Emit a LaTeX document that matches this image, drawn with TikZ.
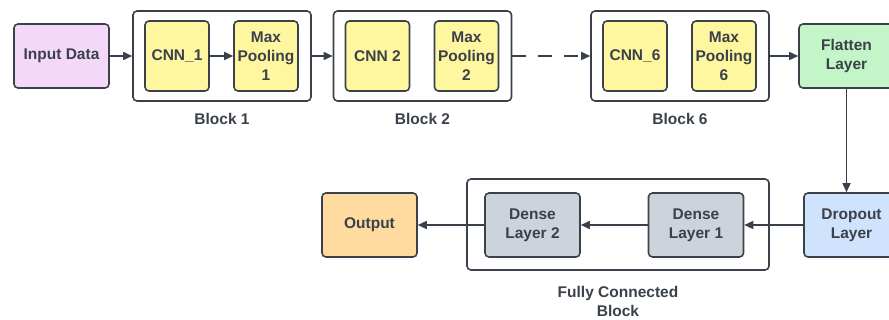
\documentclass[tikz,border=0pt]{standalone}
\usepackage{fontspec}
\setmainfont{Liberation Sans}
\usetikzlibrary{arrows.meta,positioning}

\definecolor{inkgray}{HTML}{3A414A}
\definecolor{inputfill}{HTML}{F3D8FA}
\definecolor{convfill}{HTML}{FFF6A0}
\definecolor{flatfill}{HTML}{C4F5C8}
\definecolor{dropfill}{HTML}{D0E3FC}
\definecolor{densefill}{HTML}{CDD3DB}
\definecolor{outfill}{HTML}{FFDBA0}

\tikzset{
  layer/.style={draw=inkgray, line width=1.6pt, rounded corners=4pt,
    minimum width=95pt, minimum height=64pt, inner sep=2pt, align=center,
    text=inkgray, font=\bfseries\fontsize{15.5}{19}\selectfont},
  convbox/.style={layer, fill=convfill, minimum width=64pt, minimum height=70pt},
  blockbox/.style={draw=inkgray, line width=1.6pt, rounded corners=4pt,
    minimum width=178pt, minimum height=90pt},
  blocklabel/.style={text=inkgray, align=center,
    font=\bfseries\fontsize{15.5}{19}\selectfont},
  flow/.style={->, draw=inkgray, line width=1.6pt}
}

\begin{document}
\begin{tikzpicture}[x=1pt, y=-1pt, >={Triangle[length=9pt,width=8pt]}]

            \useasboundingbox (0,0) rectangle (889,320);

            % Input
            \node[layer, fill=inputfill] (In) at (61.5,56) {Input Data};

            % Convolution blocks
            \foreach \n/\x/\cnn in {1/222/CNN\_1, 2/422.5/CNN 2, 6/680/CNN\_6}
            {
            \node[blockbox] (B\n) at (\x,56) {};
            \node[convbox] (C\n) at (\x-45,56) {\cnn};
            \node[convbox] (P\n) at (\x+44,56) {Max\\Pooling\\\n};
            \node[blocklabel] at (\x,119) {Block \n};
            }

            % Flatten and Dropout
            \node[layer, fill=flatfill] (Flat) at (846.5,56) {Flatten\\Layer};
            \node[layer, fill=dropfill] (Drop) at (851.5,225) {Dropout\\Layer};

            % Fully connected block
            \node[blockbox, minimum width=302pt, minimum height=91pt] (FC) at (618,224.5) {};
            \node[layer, fill=densefill] (D1) at (696,225) {Dense\\Layer 1};
            \node[layer, fill=densefill] (D2) at (532.5,225) {Dense\\Layer 2};
            \node[blocklabel] at (618,301) {Fully Connected\\Block};

            % Output
            \node[layer, fill=outfill] (Out) at (369.5,225) {Output};

            % Connect layers
            \draw[flow] (In) -- (B1);
            \draw[flow] (C1) -- (P1);
            \draw[flow] (B1) -- (B2);
            \draw[flow, dash pattern=on 14pt off 12pt] (B2) -- (B6);
            \draw[flow] (B6) -- (Flat);
            \draw[flow] (Flat.south) -- (Flat.south |- Drop.north);
            \draw[flow] (Drop) -- (D1);
            \draw[flow] (D1) -- (D2);
            \draw[flow] (D2) -- (Out);

        \end{tikzpicture}
\end{document}
